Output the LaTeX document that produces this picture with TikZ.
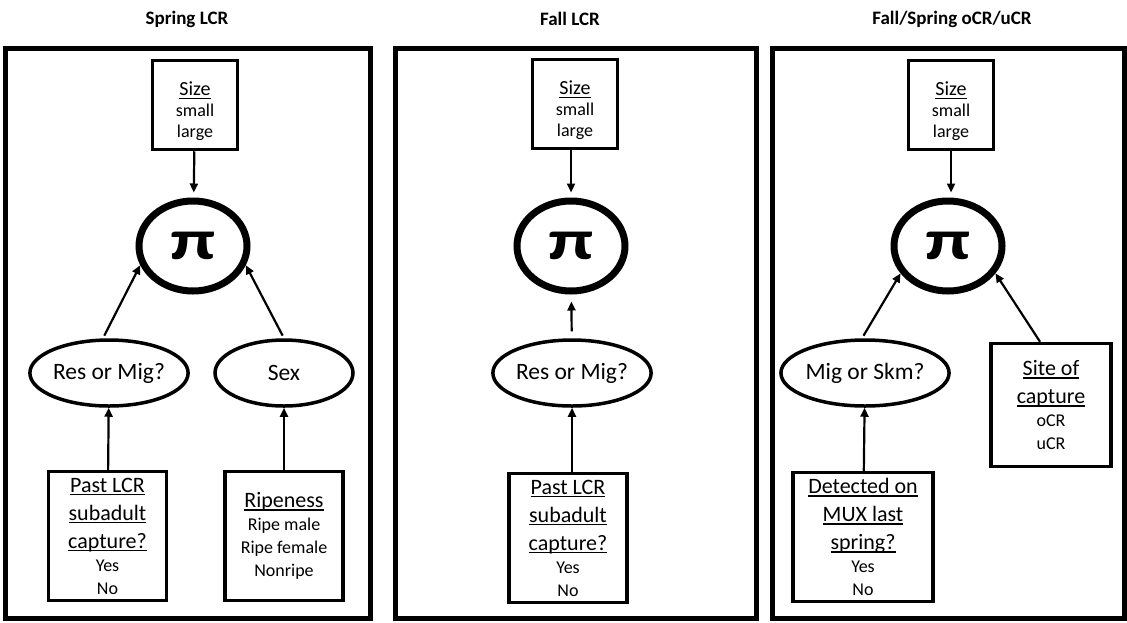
\documentclass[tikz,border=0pt]{standalone}
\usepackage{fontspec}
\setmainfont{Carlito}
\usetikzlibrary{positioning,shapes.geometric,arrows.meta}
% underline at a fixed distance under the baseline
\newcommand{\ul}[1]{\setbox0\hbox{#1}\rlap{\rule[-3pt]{\wd0}{1.3pt}}\box0}
\newcommand{\hfnt}{\fontsize{22}{28}\selectfont}
\newcommand{\vfnt}{\fontsize{18}{22}\selectfont}
\tikzset{panel/.style={draw, line width=5pt},
box/.style={draw, line width=3.5pt, align=center, inner sep=0pt, font=\hfnt},
sizebox/.style={box, minimum width=85pt, minimum height=89pt, font=\fontsize{20}{24}\selectfont},
var/.style={ellipse, draw, line width=3.5pt, inner sep=0pt, minimum width=138pt, minimum height=66pt, font=\fontsize{23.5}{26}\selectfont},
pinode/.style={ellipse, draw, line width=7pt, inner sep=0pt, minimum width=108pt, minimum height=90pt, font=\bfseries\fontsize{54}{54}\selectfont},
title/.style={font=\bfseries\fontsize{19}{22}\selectfont},
line/.style={-{Triangle[length=9pt,width=8pt]}, line width=2.2pt}
}
\newcommand{\pisym}{\scalebox{1.45}[1.05]{π}}
\begin{document}
\begin{tikzpicture}[x=1pt,y=-1pt]
\useasboundingbox (0,0) rectangle (1127,622);
\draw[panel] (5,48) rectangle (370,618);
\draw[panel] (395,48) rectangle (756,618);
\draw[panel] (772,48) rectangle (1124,618);
\node[title] (t1) at (187,19) {Spring LCR};
\node[title] (t2) at (570,19) {Fall LCR};
\node[title] (t3) at (952,19) {Fall/Spring oCR/uCR};
% Spring LCR
\node[sizebox] (size1) at (195,105) {\rule{0pt}{27pt}\ul{Size}\\[-3pt]{\vfnt small}\\[-3pt]{\vfnt large}};
\node[pinode] (pi1) at (193,246) {\pisym};
\node[var] (res1) at (109,373) {Res or Mig?};
\node[var] (sex1) at (284,373) {Sex};
\node[box, minimum width=118pt, minimum height=129pt] (past1) at (107.5,536) {\ul{Past LCR}\\\ul{subadult}\\\ul{capture?}\\[-5pt]{\vfnt Yes}\\[-5pt]{\vfnt No}};
\node[box, minimum width=118pt, minimum height=129pt] (ripe1) at (284,536) {\ul{Ripeness}\\[-5pt]{\vfnt Ripe male}\\[-5pt]{\vfnt Ripe female}\\[-5pt]{\vfnt Nonripe}};
\draw[line, shorten >=5pt] (size1) -- (pi1);
\draw[line, shorten <=3pt] (res1.100) -- (pi1.200);
\draw[line, shorten <=3pt] (sex1.north) -- (pi1.-20);
\draw[line] (past1) -- (res1);
\draw[line] (ripe1) -- (sex1);
% Fall LCR
\node[sizebox] (size2) at (575,104) {\rule{0pt}{27pt}\ul{Size}\\[-3pt]{\vfnt small}\\[-3pt]{\vfnt large}};
\node[pinode] (pi2) at (571,246) {\pisym};
\node[var] (res2) at (572,373) {Res or Mig?};
\node[box, minimum width=118pt, minimum height=129pt] (past2) at (568,538) {\ul{Past LCR}\\\ul{subadult}\\\ul{capture?}\\[-5pt]{\vfnt Yes}\\[-5pt]{\vfnt No}};
\draw[line, shorten >=5pt] (size2.south -| pi2) -- (pi2);
\draw[line, shorten <=7pt, shorten >=7pt] (res2) -- (pi2);
\draw[line] (past2.north -| res2.south) -- (res2);
% Fall/Spring oCR/uCR
\node[sizebox] (size3) at (951,105) {\rule{0pt}{27pt}\ul{Size}\\[-3pt]{\vfnt small}\\[-3pt]{\vfnt large}};
\node[pinode] (pi3) at (948,246) {\pisym};
\node[var] (mig3) at (865,373) {Mig or Skm?};
\node[box, minimum width=140pt, minimum height=129pt] (det3) at (863,537) {\ul{Detected on}\\\ul{MUX last}\\\ul{spring?}\\[-5pt]{\vfnt Yes}\\[-5pt]{\vfnt No}};
\node[box, minimum width=120pt, minimum height=123pt] (site3) at (1051,405) {\ul{Site of}\\\ul{capture}\\[-5pt]{\vfnt oCR}\\[-5pt]{\vfnt uCR}};
\draw[line, shorten >=5pt] (size3.south) -- (size3.south |- pi3.north);
\draw[line, shorten <=3pt] (mig3.95) -- (pi3.210);
\draw[line] ([xshift=-11pt]site3.north) -- (pi3.-30);
\draw[line] (det3) -- (mig3);
\end{tikzpicture}
\end{document}
